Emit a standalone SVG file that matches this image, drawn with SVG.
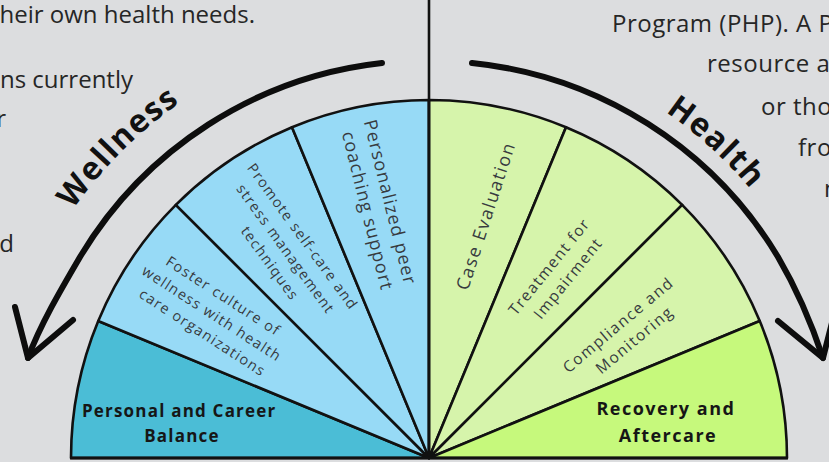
<svg xmlns="http://www.w3.org/2000/svg" width="829" height="462" viewBox="0 0 829 462">
  <defs>
    <style>
      .bg-text { font-family: "Open Sans", "Liberation Sans", sans-serif; font-size: 24px; fill: #262626; }
      .sector { stroke: #111; stroke-width: 2.6; stroke-linejoin: round; }
      .light-blue { fill: #97daf6; }
      .teal { fill: #4bbdd6; }
      .light-green { fill: #d6f4ab; }
      .lime { fill: #c6f97c; }
      .label { font-family: "Open Sans", "Liberation Sans", sans-serif; fill: #373b3f; text-anchor: middle; }
      .bold-label { font-family: "Open Sans", "Liberation Sans", sans-serif; font-weight: 700; fill: #161616; text-anchor: middle; }
      .arc-title { font-family: "Open Sans", "Liberation Sans", sans-serif; font-weight: 700; font-size: 32px; letter-spacing: 1.5px; fill: #111; }
      .sweep { fill: none; stroke: #0d0d0d; stroke-width: 6; stroke-linecap: round; stroke-linejoin: round; }
    </style>
    <path id="wellness-path" d="M -5,458 A 434,434 0 0 1 429,24"/>
    <path id="health-path" d="M 429,39 A 419,419 0 0 1 848,458"/>
  </defs>

  <!-- page background -->
  <rect x="0" y="0" width="829" height="462" fill="#dcdddf"/>

  <!-- surrounding paragraph text, cut by the frame -->
  <g id="body-text-left" class="bg-text" text-anchor="end">
    <text x="255" y="23">heir own health needs.</text>
    <text x="133" y="88">ns currently</text>
    <text x="6" y="127">r</text>
    <text x="14" y="252">d</text>
  </g>
  <g id="body-text-right" class="bg-text" letter-spacing="0.5">
    <text x="612" y="32">Program (PHP). A P</text>
    <text x="707" y="72">resource a</text>
    <text x="761" y="115">or tho</text>
    <text x="798" y="156">fro</text>
    <text x="824" y="197">m</text>
  </g>

  <!-- wellness half (left) -->
  <g id="personal-career-balance">
    <path class="sector teal" d="M429,458 L71,458 A358,358 0 0 1 98.25,321 Z"/>
    <text class="bold-label" font-size="17" letter-spacing="1.2">
      <tspan x="182" y="417">Personal and Career</tspan>
      <tspan x="182" y="442">Balance</tspan>
    </text>
  </g>
  <g id="foster-culture">
    <path class="sector light-blue" d="M429,458 L98.25,321 A358,358 0 0 1 175.85,204.85 Z"/>
    <text class="label" font-size="14.5" letter-spacing="1.3" transform="translate(214,315) rotate(33)">
      <tspan x="0" y="-16">Foster culture of</tspan>
      <tspan x="0" y="5">wellness with health</tspan>
      <tspan x="0" y="26">care organizations</tspan>
    </text>
  </g>
  <g id="promote-self-care">
    <path class="sector light-blue" d="M429,458 L175.85,204.85 A358,358 0 0 1 292,127.25 Z"/>
    <text class="label" font-size="14.5" letter-spacing="1.3" transform="translate(287,251) rotate(54)">
      <tspan x="0" y="-16">Promote self-care and</tspan>
      <tspan x="0" y="5">stress management</tspan>
      <tspan x="0" y="26">techniques</tspan>
    </text>
  </g>
  <g id="peer-coaching">
    <path class="sector light-blue" d="M429,458 L292,127.25 A358,358 0 0 1 429,100 Z"/>
    <text class="label" font-size="18" letter-spacing="1.1" transform="translate(379,208) rotate(76)">
      <tspan x="0" y="-6">Personalized peer</tspan>
      <tspan x="0" y="18">coaching support</tspan>
    </text>
  </g>

  <!-- health half (right) -->
  <g id="case-evaluation">
    <path class="sector light-green" d="M429,458 L429,100 A358,358 0 0 1 566,127.25 Z"/>
    <text class="label" font-size="18" letter-spacing="1.5" transform="translate(486,216) rotate(-72)">
      <tspan x="0" y="6">Case Evaluation</tspan>
    </text>
  </g>
  <g id="treatment-impairment">
    <path class="sector light-green" d="M429,458 L566,127.25 A358,358 0 0 1 682.15,204.85 Z"/>
    <text class="label" font-size="15.5" letter-spacing="1.4" transform="translate(559,271) rotate(-51)">
      <tspan x="0" y="-5">Treatment for</tspan>
      <tspan x="0" y="17">Impairment</tspan>
    </text>
  </g>
  <g id="compliance-monitoring">
    <path class="sector light-green" d="M429,458 L682.15,204.85 A358,358 0 0 1 759.75,321 Z"/>
    <text class="label" font-size="15.5" letter-spacing="1.6" transform="translate(627,331) rotate(-40)">
      <tspan x="0" y="-5">Compliance and</tspan>
      <tspan x="0" y="17">Monitoring</tspan>
    </text>
  </g>
  <g id="recovery-aftercare">
    <path class="sector lime" d="M429,458 L759.75,321 A358,358 0 0 1 787,458 Z"/>
    <text class="bold-label" font-size="18" letter-spacing="1.5">
      <tspan x="669" y="415">Recovery and</tspan>
      <tspan x="668" y="442">Aftercare</tspan>
    </text>
  </g>

  <!-- centre divider and base line -->
  <g id="axes">
    <line x1="429" y1="0" x2="429" y2="459" stroke="#111" stroke-width="2.6"/>
    <line x1="70" y1="458" x2="788" y2="458" stroke="#111" stroke-width="3"/>
  </g>

  <!-- curved arrows around the fan -->
  <g id="connectors">
    <path class="sweep" d="M382,63 A404,404 0 0 0 80,257 C62.3,287.2 40,325 28,358"/>
    <path class="sweep" d="M15,307 L28,358 L73,320"/>
    <path class="sweep" d="M472,63 A404,404 0 0 1 778,257 C795.7,287.2 812,325 823,358"/>
    <path class="sweep" d="M778,321 L823,358 L836,307"/>
  </g>

  <!-- arc titles -->
  <g id="wellness-title">
    <text class="arc-title" text-anchor="middle"><textPath href="#wellness-path" startOffset="50%">Wellness</textPath></text>
  </g>
  <g id="health-title">
    <text class="arc-title" text-anchor="middle"><textPath href="#health-path" startOffset="47%">Health</textPath></text>
  </g>
</svg>
